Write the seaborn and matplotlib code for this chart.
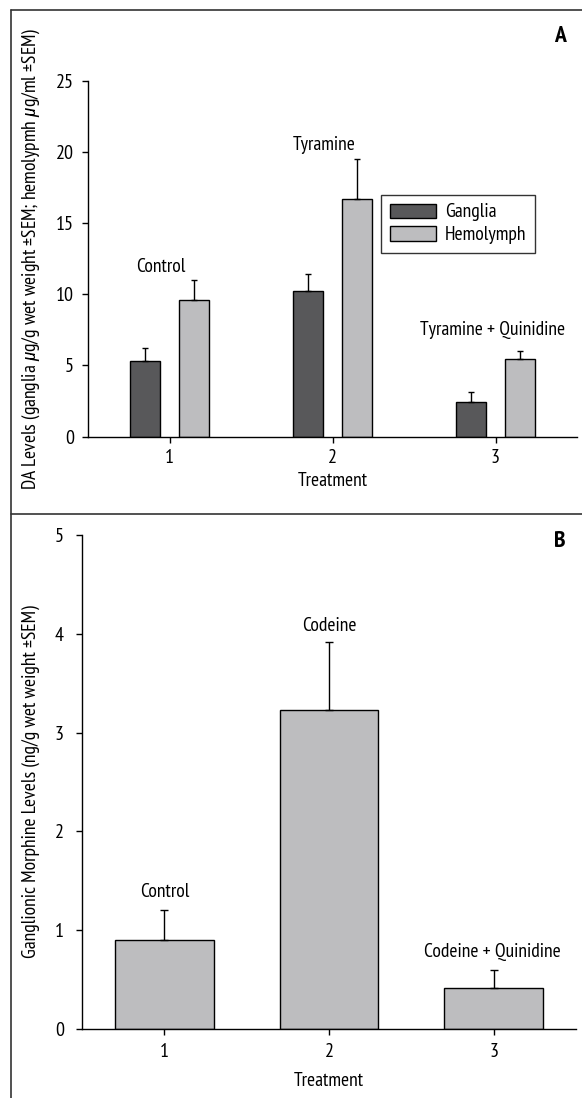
import matplotlib
matplotlib.use("Agg")
import matplotlib.pyplot as plt
import seaborn as sns
import numpy as np
import pandas as pd
from matplotlib.lines import Line2D

# ---------------- data ----------------
treatments = ["1", "2", "3"]
series = ["Ganglia", "Hemolymph"]
ganglia_mean = [5.33, 10.2, 2.42]
ganglia_sem = [0.87, 1.2, 0.70]
hemolymph_mean = [9.6, 16.7, 5.42]
hemolymph_sem = [1.4, 2.8, 0.58]
labels_a = ["Control", "Tyramine", "Tyramine + Quinidine"]

morphine_mean = [0.905, 3.23, 0.41]
morphine_sem = [0.30, 0.69, 0.19]
labels_b = ["Control", "Codeine", "Codeine + Quinidine"]

yticks_a = [0, 5, 10, 15, 20, 25]
yticks_b = [0, 1, 2, 3, 4, 5]

col_dark = "#58585a"
col_light = "#bdbdbf"

sns.set_style("ticks")
FONT = ["PT Sans Narrow", "DejaVu Sans"]
plt.rcParams["font.family"] = FONT
plt.rcParams["mathtext.fontset"] = "custom"
plt.rcParams["mathtext.it"] = "Roboto Condensed:italic"
plt.rcParams["mathtext.rm"] = "PT Sans Narrow"
plt.rcParams["text.color"] = "black"
plt.rcParams["axes.labelcolor"] = "black"
plt.rcParams["xtick.color"] = "black"
plt.rcParams["ytick.color"] = "black"

FS = 14
TFS = 14.5

fig = plt.figure(figsize=(5.82, 10.98), dpi=100)
W, H = 582, 1098

def frac(x0, y0, x1, y1):
    return [x0 / W, 1 - y1 / H, (x1 - x0) / W, (y1 - y0) / H]

axA = fig.add_axes(frac(88, 80.9, 577, 436.6))
axB = fig.add_axes(frac(82, 535, 576, 1029))

# ---------------- panel A ----------------
dfA = pd.DataFrame({
    "Treatment": treatments * 2,
    "Series": [series[0]] * 3 + [series[1]] * 3,
    "Value": ganglia_mean + hemolymph_mean,
})
sns.barplot(data=dfA, x="Treatment", y="Value", hue="Series", order=treatments,
            hue_order=series, palette=[col_dark, col_light], width=0.6, gap=0.393,
            edgecolor="black", linewidth=1.0, errorbar=None, saturation=1, ax=axA)

barsA = [p for p in axA.patches if p.get_height() > 0][:6]
xsA = [p.get_x() + p.get_width() / 2 for p in barsA]
ysA = [p.get_height() for p in barsA]
semA = ganglia_sem + hemolymph_sem
axA.errorbar(xsA, ysA, yerr=[np.zeros(6), semA], fmt="none", ecolor="black",
             elinewidth=1.0, capsize=2.3, capthick=1.0)

axA.set_xlim(-0.5, 2.5)
axA.set_ylim(0, 25)
axA.set_yticks(yticks_a)
axA.tick_params(axis="both", labelsize=TFS, length=4, width=1, direction="out", color="black")
axA.tick_params(axis="y", pad=6)
axA.tick_params(axis="x", pad=5)
axA.set_xlabel("Treatment", fontsize=FS)
axA.set_ylabel(r"DA Levels (ganglia $\mu$g/g wet weight ±SEM; hemolypmh $\mu$g/ml ±SEM)", fontsize=FS)
axA.yaxis.set_label_coords(-0.095, 0.5)
axA.xaxis.set_label_coords(0.5, -0.10)
for s in ["top", "right"]:
    axA.spines[s].set_visible(False)
for s in ["left", "bottom"]:
    axA.spines[s].set_linewidth(1.0)
    axA.spines[s].set_color("black")

posA = [(-0.055, 11.9), (0.95, 20.5), (1.98, 7.5)]
for (x, y), t in zip(posA, labels_a):
    axA.text(x, y, t, ha="center", va="center", fontsize=FS)

leg = axA.legend(loc="upper left", bbox_to_anchor=(0.599, 0.680), borderaxespad=0,
                 frameon=True, fancybox=False, edgecolor="black", fontsize=FS,
                 handlelength=2.4, handleheight=0.75, handletextpad=0.45,
                 borderpad=0.45, labelspacing=0.25)
leg.get_frame().set_linewidth(1.0)
leg.set_title(None)

# ---------------- panel B ----------------
dfB = pd.DataFrame({"Treatment": treatments, "Value": morphine_mean})
sns.barplot(data=dfB, x="Treatment", y="Value", order=treatments, color=col_light,
            width=0.6, edgecolor="black", linewidth=1.0, errorbar=None, saturation=1, ax=axB)
barsB = list(axB.patches)[:3]
xsB = [p.get_x() + p.get_width() / 2 for p in barsB]
ysB = [p.get_height() for p in barsB]
axB.errorbar(xsB, ysB, yerr=[np.zeros(3), morphine_sem], fmt="none", ecolor="black",
             elinewidth=1.0, capsize=2.9, capthick=1.0)
axB.set_xlim(-0.5, 2.5)
axB.set_ylim(0, 5)
axB.set_yticks(yticks_b)
axB.tick_params(axis="both", labelsize=TFS, length=4, width=1, direction="out", color="black")
axB.tick_params(axis="y", pad=9)
axB.tick_params(axis="x", pad=6)
axB.set_xlabel("Treatment", fontsize=FS)
axB.set_ylabel("Ganglionic Morphine Levels (ng/g wet weight ±SEM)", fontsize=FS)
axB.yaxis.set_label_coords(-0.085, 0.5)
axB.xaxis.set_label_coords(0.5, -0.088)
for s in ["top", "right"]:
    axB.spines[s].set_visible(False)
for s in ["left", "bottom"]:
    axB.spines[s].set_linewidth(1.0)
    axB.spines[s].set_color("black")

posB = [(0.0, 1.385), (1.0, 4.08), (1.99, 0.78)]
for (x, y), t in zip(posB, labels_b):
    axB.text(x, y, t, ha="center", va="center", fontsize=FS)

# ---------------- panel letters & frame ----------------
fig.text(560 / W, 1 - 37 / H, "A", ha="center", va="center", fontsize=17, fontweight="bold")
fig.text(560 / W, 1 - 541 / H, "B", ha="center", va="center", fontsize=17, fontweight="bold")

fc = "#333333"
fig.add_artist(Line2D([11 / W, 11 / W], [1 - 10 / H, 0], color=fc, lw=1.2))
fig.add_artist(Line2D([11 / W, 1], [1 - 10 / H, 1 - 10 / H], color=fc, lw=1.2))
fig.add_artist(Line2D([11 / W, 1], [1 - 514 / H, 1 - 514 / H], color=fc, lw=1.2))

fig.savefig("out.png", dpi=100, facecolor="white")
